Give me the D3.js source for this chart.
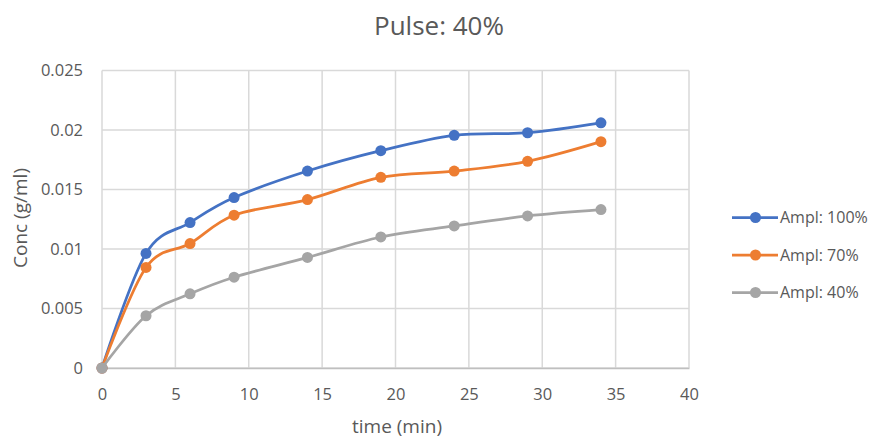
<!DOCTYPE html>
<html><head><meta charset="utf-8">
<script src="https://cdn.jsdelivr.net/npm/d3@7"></script>
<style>
html,body{margin:0;padding:0;background:#fff;}
svg{display:block;font-family:"Open Sans",sans-serif;}
</style></head>
<body>
<svg id="chart" width="871" height="439"></svg>
<script>
const times = [0, 3, 6, 9, 14, 19, 24, 29, 34];
const ampl100 = [0, 0.00963, 0.01222, 0.01432, 0.01655, 0.01826, 0.01955, 0.01977, 0.02060];
const ampl70  = [0, 0.00845, 0.01046, 0.01284, 0.01415, 0.01602, 0.01655, 0.01737, 0.01902];
const ampl40  = [0, 0.00439, 0.00623, 0.00763, 0.00929, 0.01101, 0.01194, 0.01278, 0.01331];
const seriesNames = ["Ampl: 100%", "Ampl: 70%", "Ampl: 40%"];
const seriesColors = ["#4472C4", "#ED7D31", "#A5A5A5"];
const xTicks = [0, 5, 10, 15, 20, 25, 30, 35, 40];
const yTicks = [0, 0.005, 0.01, 0.015, 0.02, 0.025];
const yTickLabels = ["0", "0.005", "0.01", "0.015", "0.02", "0.025"];
const title = "Pulse: 40%";
const xTitle = "time (min)";
const yTitle = "Conc (g/ml)";

const svg = d3.select("#chart");
const L = 102, R = 689, T = 70.5, B = 368;
const x = d3.scaleLinear().domain([0, 40]).range([L, R]);
const y = d3.scaleLinear().domain([0, 0.025]).range([B, T]);

// gridlines
const g = svg.append("g");
g.selectAll("line.h").data(yTicks).join("line")
  .attr("x1", L).attr("x2", R)
  .attr("y1", d => y(d)).attr("y2", d => y(d))
  .attr("stroke", "#d9d9d9").attr("stroke-width", 1.5);
g.selectAll("line.v").data(xTicks).join("line")
  .attr("y1", T).attr("y2", B)
  .attr("x1", d => x(d)).attr("x2", d => x(d))
  .attr("stroke", "#d9d9d9").attr("stroke-width", 1.5);

// axes
const xAxis = d3.axisBottom(x).tickValues(xTicks).tickSize(0).tickPadding(20).tickFormat(d3.format("d"));
const xg = svg.append("g").attr("transform", `translate(0,${B})`).call(xAxis);
xg.select(".domain").attr("stroke", "#bfbfbf").attr("stroke-width", 1.5);
xg.selectAll("text").attr("fill", "#595959").style("font-size", "16.5px").style("font-family", "'Open Sans',sans-serif");

const yAxis = d3.axisLeft(y).tickValues(yTicks).tickSize(0).tickPadding(19).tickFormat((d, i) => yTickLabels[i]);
const yg = svg.append("g").attr("transform", `translate(${L},0)`).call(yAxis);
yg.select(".domain").remove();
yg.selectAll("text").attr("fill", "#595959").style("font-size", "16.5px").style("font-family", "'Open Sans',sans-serif");

// titles
svg.append("text").attr("x", 439).attr("y", 35).attr("text-anchor", "middle")
  .attr("fill", "#595959").style("font-size", "26px").text(title);
svg.append("text").attr("x", 397).attr("y", 433).attr("text-anchor", "middle")
  .attr("fill", "#595959").style("font-size", "19px").text(xTitle);
svg.append("text").attr("transform", `translate(27,218) rotate(-90)`).attr("text-anchor", "middle")
  .attr("fill", "#595959").style("font-size", "19px").text(yTitle);

// series
const allSeries = [ampl100, ampl70, ampl40];
const line = d3.line().x((d, i) => x(times[i])).y(d => y(d)).curve(d3.curveCardinal.tension(0));
allSeries.forEach((vals, si) => {
  const sg = svg.append("g");
  sg.append("path").datum(vals).attr("d", line)
    .attr("fill", "none").attr("stroke", seriesColors[si]).attr("stroke-width", 2.75)
    .attr("stroke-linejoin", "round").attr("stroke-linecap", "round");
  sg.selectAll("circle").data(vals).join("circle")
    .attr("cx", (d, i) => x(times[i])).attr("cy", d => y(d)).attr("r", 5.5)
    .attr("fill", seriesColors[si]);
});

// legend
const lg = svg.append("g");
seriesNames.forEach((name, i) => {
  const ly = 217.5 + i * 37.5;
  lg.append("line").attr("x1", 732).attr("x2", 778).attr("y1", ly).attr("y2", ly)
    .attr("stroke", seriesColors[i]).attr("stroke-width", 2.75);
  lg.append("circle").attr("cx", 755.5).attr("cy", ly).attr("r", 5.5).attr("fill", seriesColors[i]);
  lg.append("text").attr("x", 780).attr("y", ly).attr("dy", "0.35em")
    .attr("fill", "#595959").style("font-size", "16px").text(name);
});
</script>
</body></html>
